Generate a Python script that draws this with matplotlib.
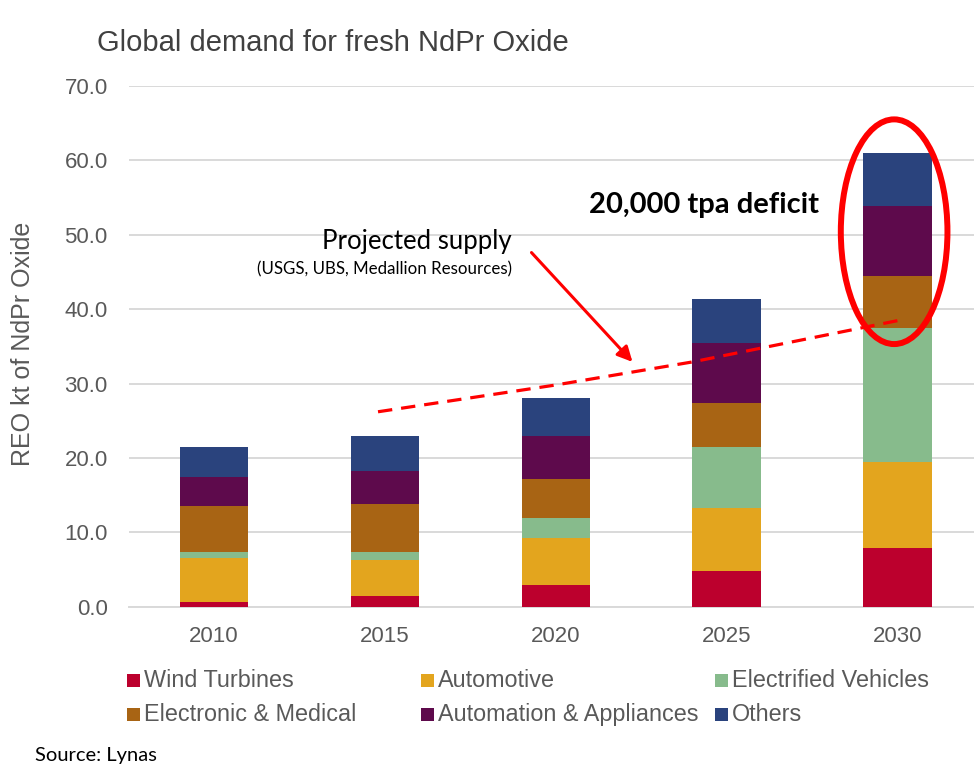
import matplotlib
matplotlib.use("Agg")
import matplotlib.pyplot as plt
from matplotlib.patches import Ellipse, Rectangle
import numpy as np

# --- data (kt REO of NdPr oxide) ---
years = ["2010", "2015", "2020", "2025", "2030"]
series_names = ["Wind Turbines", "Automotive", "Electrified Vehicles",
                "Electronic & Medical", "Automation & Appliances", "Others"]
wind_turbines = [0.6, 1.4, 2.9, 4.8, 7.9]
automotive = [6.0, 4.9, 6.4, 8.5, 11.6]
electrified_vehicles = [0.7, 1.1, 2.6, 8.1, 18.0]
electronic_medical = [6.2, 6.4, 5.2, 6.0, 7.0]
automation_appliances = [3.9, 4.5, 5.9, 8.0, 9.4]
others = [4.0, 4.6, 5.1, 6.0, 7.1]
yticks = [0, 10, 20, 30, 40, 50, 60, 70]

# projected supply curve (category position, kt)
supply_x = [0.96, 2.0, 2.8, 4.0]
supply_y = [26.2, 29.8, 32.9, 38.45]

colors = ["#BC002D", "#E3A51E", "#87BB8C", "#A86414", "#5E0A4C", "#2A437D"]
series = [wind_turbines, automotive, electrified_vehicles,
          electronic_medical, automation_appliances, others]

W, H = 974, 764
fig = plt.figure(figsize=(W / 100, H / 100), dpi=100)
fig.patch.set_facecolor("white")


def fx(px):
    return px / W


def fy(py):
    return 1 - py / H


ax = fig.add_axes([fx(128.5), fy(606.7), (983 - 128.5) / W, (606.7 - 85.9) / H])
ax.set_facecolor("white")

x = np.arange(len(years))
bottom = np.zeros(len(years))
for name, vals, c in zip(series_names, series, colors):
    ax.bar(x, vals, width=0.4, bottom=bottom, color=c, edgecolor="none",
           label=name, zorder=3)
    bottom += np.array(vals)

ax.set_xlim(-0.5, 4.5)
ax.set_ylim(0, 70)
ax.set_yticks(yticks)
ax.set_yticklabels([f"{v:.1f}" for v in yticks])
ax.set_xticks(x)
ax.set_xticklabels(years)
ax.grid(axis="y", color="#D9D9D9", linewidth=1.4, zorder=0)
for s in ["top", "right", "left"]:
    ax.spines[s].set_visible(False)
ax.spines["bottom"].set_color("#D9D9D9")
ax.spines["bottom"].set_linewidth(1.4)
ax.tick_params(axis="both", length=0, colors="#595959")
ax.tick_params(axis="y", pad=15)
ax.tick_params(axis="x", pad=14)
for lab in ax.get_xticklabels() + ax.get_yticklabels():
    lab.set_fontfamily("Liberation Sans")
    lab.set_fontsize(16)
    lab.set_color("#595959")

# y axis title
fig.text(fx(23), fy(344), "REO kt of NdPr Oxide", rotation=90,
         ha="center", va="center", fontsize=18, color="#595959",
         family="Liberation Sans")

# chart title
fig.text(fx(97), fy(43), "Global demand for fresh NdPr Oxide",
         ha="left", va="center", fontsize=21, color="#404040",
         family="Liberation Sans")

# projected supply line
ax.plot(supply_x, supply_y, color="#FF0000", linestyle=(0, (4.5, 2.8)),
        linewidth=2.3, zorder=5, clip_on=False)

# arrow from the supply label to the line
ax.annotate("", xy=(2.449, 32.9), xytext=(1.858, 47.6),
            arrowprops=dict(arrowstyle="-|>,head_length=0.9,head_width=0.45",
                            color="#FF0000", lw=2.2, shrinkA=0, shrinkB=0),
            zorder=6)

fig.text(fx(512), fy(241.7), "Projected supply", ha="right", va="center",
         fontsize=18.5, color="black", family="Lato")
fig.text(fx(512), fy(269.3), "(USGS, UBS, Medallion Resources)", ha="right",
         va="center", fontsize=12.2, color="black", family="Lato")
fig.text(fx(589), fy(205), "20,000 tpa deficit", ha="left", va="center",
         fontsize=21, fontweight="bold", color="black", family="Lato")

# highlight around the 2030 bar
ax.add_patch(Ellipse((3.98, 50.4), width=0.624, height=30.2, fill=False,
                     edgecolor="#FF0000", linewidth=4.3, zorder=7,
                     clip_on=False))

# legend laid out in two rows of three
order_cols = [126.7, 420.7, 715.0]
row_y = [680.7, 714.3]
for i, (name, c) in enumerate(zip(series_names, colors)):
    row, col = divmod(i, 3)
    x0 = order_cols[col]
    y0 = row_y[row]
    fig.patches.append(Rectangle((fx(x0), fy(y0 + 6.5)), 13 / W, 13 / H,
                                 transform=fig.transFigure, facecolor=c,
                                 edgecolor="none", figure=fig))
    fig.text(fx(x0 + 17), fy(y0), name, ha="left", va="center",
             fontsize=16.8, color="#595959", family="Liberation Sans")

fig.text(fx(35), fy(755), "Source: Lynas", ha="left", va="center",
         fontsize=14.5, color="black", family="Lato")

fig.savefig("out.png", dpi=100, facecolor="white")
